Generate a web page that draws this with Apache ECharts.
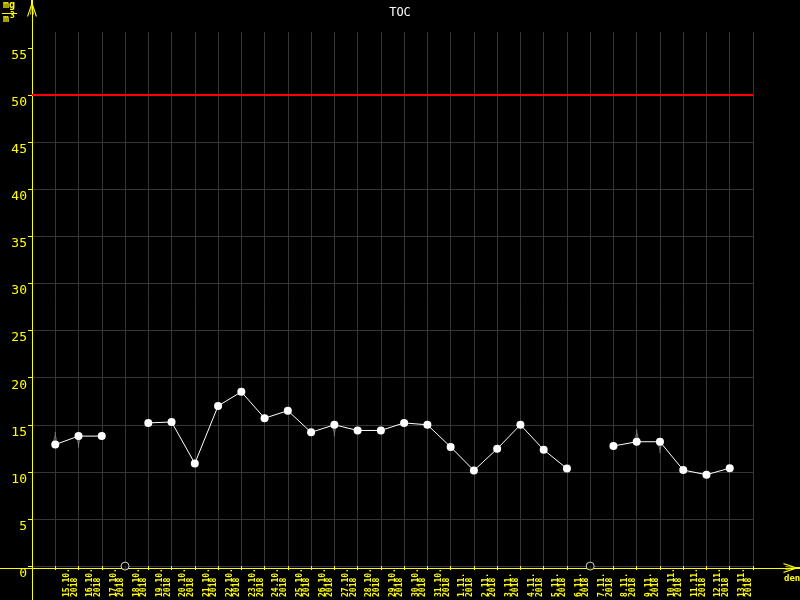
<!DOCTYPE html>
<html>
<head>
<meta charset="utf-8">
<script src="https://cdn.jsdelivr.net/npm/echarts@6/dist/echarts.min.js"></script>
<style>
html,body{margin:0;padding:0;background:#000;}
#chart{width:800px;height:600px;}
</style>
</head>
<body>
<div id="chart"></div>
<script>
const dates = ['15.10.2018','16.10.2018','17.10.2018','18.10.2018','19.10.2018','20.10.2018','21.10.2018','22.10.2018','23.10.2018','24.10.2018','25.10.2018','26.10.2018','27.10.2018','28.10.2018','29.10.2018','30.10.2018','31.10.2018','1.11.2018','2.11.2018','3.11.2018','4.11.2018','5.11.2018','6.11.2018','7.11.2018','8.11.2018','9.11.2018','10.11.2018','11.11.2018','12.11.2018','13.11.2018'];
const tocValues = [12.9, 13.8, 13.8, null, 15.2, 15.3, 10.9, 17.0, 18.5, 15.7, 16.5, 14.2, 15.0, 14.4, 14.4, 15.2, 15.0, 12.65, 10.15, 12.45, 15.0, 12.35, 10.35, null, 12.75, 13.2, 13.2, 10.2, 9.7, 10.4];
const limitValue = 50;
const yTicks = [0, 5, 10, 15, 20, 25, 30, 35, 40, 45, 50, 55];
const trendDates = ['15.10.2018', '16.10.2018', '27.10.2018', '9.11.2018', '10.11.2018'];
const trendDirs = ['up', 'down', 'down', 'up', 'down'];

const categories = [''].concat(dates, [' ']);
const YEL = '#ffff00';
const MONO = '"DejaVu Sans Mono", "Liberation Mono", monospace';
const arrowPath = 'path://M4,0 L6,0 L6,6 L4,6 Z M4,5 L5,5 L1.2,17 L0,17 Z M4.3,5 L5,5 L4,15 L3.2,15 Z M5,5 L5.7,5 L6.8,15 L6,15 Z M5,5 L6,5 L10,17 L8.8,17 Z';

function pad6(s) {
  while (s.length < 6) s += '\u00a0';
  return s;
}

const chart = echarts.init(document.getElementById('chart'));
chart.setOption({
  backgroundColor: '#000',
  animation: false,
  title: {
    text: 'TOC', left: 'center', top: 2,
    textStyle: { color: '#fff', fontSize: 12, fontWeight: 'normal', fontFamily: MONO }
  },
  grid: [
    { left: 32, right: 47, top: 32, bottom: 32, containLabel: false },
    { left: 0, right: 0, top: 0, bottom: 0, containLabel: false }
  ],
  xAxis: [
    {
      type: 'category', gridIndex: 0, data: categories, boundaryGap: false,
      axisLine: { show: false },
      axisTick: { show: true, interval: 0, length: 4, lineStyle: { color: YEL } },
      axisLabel: {
        interval: 0, rotate: 90, margin: 2,
        color: YEL, fontFamily: MONO, fontSize: 8, fontWeight: 'bold', lineHeight: 7.5,
        verticalAlign: 'top', padding: [8, 0, 0, 0],
        formatter: function (v) {
          if (!v || !v.trim()) return '';
          const parts = v.split('.');
          return pad6(parts[0] + '.' + parts[1] + '.') + '\n' + pad6(parts[2]);
        }
      },
      splitLine: { show: true, interval: 0, lineStyle: { color: '#363636', width: 1 } }
    },
    {
      type: 'value', gridIndex: 1, min: -32, max: 768,
      axisLine: { show: true, onZero: true, lineStyle: { color: YEL, width: 1 },
        symbol: ['none', arrowPath], symbolSize: [10, 17], symbolOffset: [0, -8] },
      axisTick: { show: false }, axisLabel: { show: false }, splitLine: { show: false }
    }
  ],
  yAxis: [
    {
      type: 'value', gridIndex: 0, min: 0, max: 56.7, interval: 5,
      axisLine: { show: false },
      axisTick: { show: true, length: 4, lineStyle: { color: YEL }, customValues: yTicks },
      axisLabel: {
        color: YEL, fontFamily: MONO, fontSize: 13, margin: 5, verticalAlign: 'top',
        padding: [1, 0, 0, 0],
        customValues: yTicks,
        formatter: function (v) { return v > 55.5 ? '' : String(v); }
      },
      splitLine: { show: true, showMaxLine: false, lineStyle: { color: '#363636', width: 1 } }
    },
    {
      type: 'value', gridIndex: 1, min: -32, max: 568,
      axisLine: { show: true, onZero: true, lineStyle: { color: YEL, width: 1 },
        symbol: ['none', arrowPath], symbolSize: [10, 17], symbolOffset: [0, -8] },
      axisTick: { show: false }, axisLabel: { show: false }, splitLine: { show: false }
    }
  ],
  series: [
    {
      type: 'scatter', xAxisIndex: 0, yAxisIndex: 0, z: 2, silent: true,
      symbol: arrowPath, symbolSize: [5, 11],
      itemStyle: { color: '#9a9a9a' },
      data: trendDates.map(function (d, i) {
        const up = trendDirs[i] === 'up';
        return {
          value: [d, tocValues[dates.indexOf(d)]],
          symbolRotate: up ? 0 : 180,
          symbolOffset: [0, up ? -7 : 6]
        };
      })
    },
    {
      type: 'line', xAxisIndex: 0, yAxisIndex: 0, z: 3,
      data: dates.map(function (d, i) { return [d, tocValues[i]]; }),
      connectNulls: false, showAllSymbol: true,
      symbol: 'circle', symbolSize: 8,
      lineStyle: { color: '#fff', width: 1 },
      itemStyle: { color: '#fff' },
      markLine: {
        silent: true, symbol: 'none', label: { show: false },
        lineStyle: { color: '#ff0000', width: 2, type: 'solid' },
        data: [{ yAxis: limitValue }]
      }
    },
    {
      type: 'scatter', xAxisIndex: 0, yAxisIndex: 0, z: 4,
      symbol: 'circle', symbolSize: 8,
      itemStyle: { color: '#000', borderColor: '#fff', borderWidth: 1 },
      data: dates.filter(function (d, i) { return tocValues[i] === null; })
                 .map(function (d) { return [d, 0]; })
    }
  ],
  graphic: [
    { type: 'text', left: 3, top: 0, style: { text: 'mg', fill: YEL, font: 'bold 10px ' + MONO } },
    { type: 'line', shape: { x1: 2, y1: 13.5, x2: 17, y2: 13.5 }, style: { stroke: YEL, lineWidth: 1 } },
    { type: 'text', left: 3, top: 14, style: { text: 'm', fill: YEL, font: 'bold 10px ' + MONO } },
    { type: 'text', left: 10, top: 12, style: { text: '3', fill: YEL, font: 'bold 8px ' + MONO } },
    { type: 'text', left: 784, top: 574, style: { text: 'den', fill: YEL, font: 'bold 9px ' + MONO } }
  ]
});
</script>
</body>
</html>
